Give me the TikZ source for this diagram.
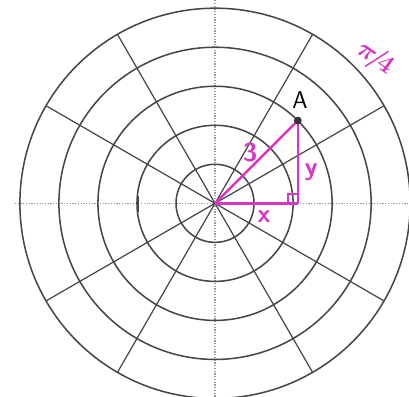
\documentclass[tikz,border=0pt]{standalone}
\usepackage{amsmath,amssymb}
\usepackage{tikz}
\usetikzlibrary{calc}
\definecolor{penpink}{RGB}{215,55,195}
\definecolor{gridgray}{RGB}{70,70,70}
\tikzset{
  ringline/.style={draw=gridgray, line width=1pt},
  spoke/.style={draw=gridgray, line width=0.8pt},
  axisline/.style={draw=gray!80, line width=0.8pt, densely dotted},
  penline/.style={draw=penpink, line width=1.7pt},
  penlabel/.style={text=penpink, font=\sffamily\bfseries\fontsize{17}{17}\selectfont}
}
\begin{document}
\begin{tikzpicture}[x=0.9cm,y=0.9cm]
\useasboundingbox (-5.51,-4.95) rectangle (4.97,5.21);
\fill[white] (-5.51,-4.95) rectangle (4.97,5.21);
% axes
\draw[axisline] (-5.13,0) -- (4.97,0);
\draw[axisline] (0,-4.95) -- (0,5.21);
% spokes every 30 degrees
\foreach \a in {30,60,120,150,210,240,300,330} {
  \draw[spoke] (0,0) -- (\a:5);
}
% rings
\foreach \r in {1,...,5} {
  \draw[ringline] (0,0) circle (\r);
}
% tick on second ring
\draw[gridgray, line width=1.4pt] (-1.97,-0.22) -- (-1.97,0.2);
% triangle
\coordinate (O) at (0,0);
\coordinate (A) at (45:3);
\coordinate (F) at (A |- O);
\draw[penline] (O) -- (A);
\draw[penline] (A) -- (F);
\draw[penline] (O) -- (F);
\draw[penpink, line width=1.3pt] ($(F)+(-0.24,0)$) -- ++(0,0.24) -- ++(0.24,0);
\fill[black!80] (A) circle (0.1);
% labels
\node[font=\sffamily\fontsize{16}{16}\selectfont] (labA) at (2.18,2.64) {A};
\node[penlabel] (lab3) at (0.9,1.31) {3};
\node[penlabel] (laby) at (2.46,0.79) {y};
\node[penlabel] (labx) at (1.26,-0.33) {x};
\node[text=penpink, rotate=-35, inner sep=0pt, font=\fontsize{17}{17}\selectfont] (labang) at (4.1,3.72) {$\boldsymbol{\pi\!/\!4}$};
\end{tikzpicture}
\end{document}
